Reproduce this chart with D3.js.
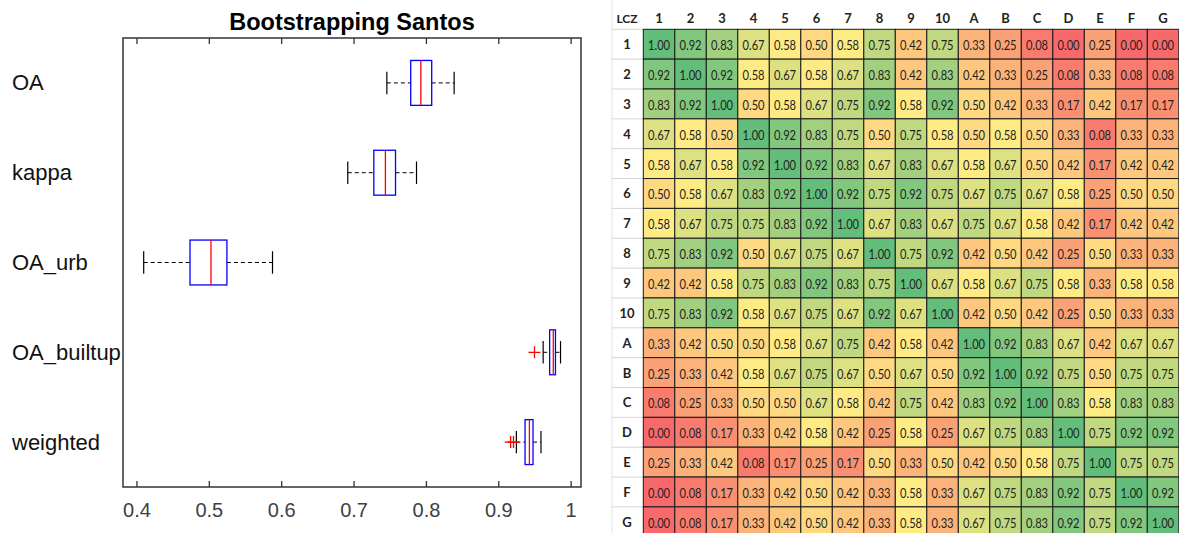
<!DOCTYPE html>
<html>
<head>
<meta charset="utf-8">
<script src="https://cdn.jsdelivr.net/npm/d3@7"></script>
<style>
  body { margin: 0; background: #fff; }
  svg { display: block; }
</style>
</head>
<body>
<script>
const W = 1179, H = 533;

// ---- boxplot ----
const groups   = ["OA", "kappa", "OA_urb", "OA_builtup", "weighted"];
const whiskLo  = [0.746, 0.692, 0.410, 0.962, 0.925];
const q1       = [0.779, 0.728, 0.474, 0.971, 0.937];
const med      = [0.793, 0.744, 0.503, 0.976, 0.943];
const q3       = [0.808, 0.758, 0.525, 0.979, 0.948];
const whiskHi  = [0.839, 0.787, 0.588, 0.986, 0.959];
const outliers = [[], [], [], [0.950], [0.917, 0.921]];
const xTicks = [0.4, 0.5, 0.6, 0.7, 0.8, 0.9, 1];
const xTickLabels = ["0.4", "0.5", "0.6", "0.7", "0.8", "0.9", "1"];

// ---- similarity matrix ----
const lcz = ["1","2","3","4","5","6","7","8","9","10","A","B","C","D","E","F","G"];
const sim = [
  [1.00,0.92,0.83,0.67,0.58,0.50,0.58,0.75,0.42,0.75,0.33,0.25,0.08,0.00,0.25,0.00,0.00],
  [0.92,1.00,0.92,0.58,0.67,0.58,0.67,0.83,0.42,0.83,0.42,0.33,0.25,0.08,0.33,0.08,0.08],
  [0.83,0.92,1.00,0.50,0.58,0.67,0.75,0.92,0.58,0.92,0.50,0.42,0.33,0.17,0.42,0.17,0.17],
  [0.67,0.58,0.50,1.00,0.92,0.83,0.75,0.50,0.75,0.58,0.50,0.58,0.50,0.33,0.08,0.33,0.33],
  [0.58,0.67,0.58,0.92,1.00,0.92,0.83,0.67,0.83,0.67,0.58,0.67,0.50,0.42,0.17,0.42,0.42],
  [0.50,0.58,0.67,0.83,0.92,1.00,0.92,0.75,0.92,0.75,0.67,0.75,0.67,0.58,0.25,0.50,0.50],
  [0.58,0.67,0.75,0.75,0.83,0.92,1.00,0.67,0.83,0.67,0.75,0.67,0.58,0.42,0.17,0.42,0.42],
  [0.75,0.83,0.92,0.50,0.67,0.75,0.67,1.00,0.75,0.92,0.42,0.50,0.42,0.25,0.50,0.33,0.33],
  [0.42,0.42,0.58,0.75,0.83,0.92,0.83,0.75,1.00,0.67,0.58,0.67,0.75,0.58,0.33,0.58,0.58],
  [0.75,0.83,0.92,0.58,0.67,0.75,0.67,0.92,0.67,1.00,0.42,0.50,0.42,0.25,0.50,0.33,0.33],
  [0.33,0.42,0.50,0.50,0.58,0.67,0.75,0.42,0.58,0.42,1.00,0.92,0.83,0.67,0.42,0.67,0.67],
  [0.25,0.33,0.42,0.58,0.67,0.75,0.67,0.50,0.67,0.50,0.92,1.00,0.92,0.75,0.50,0.75,0.75],
  [0.08,0.25,0.33,0.50,0.50,0.67,0.58,0.42,0.75,0.42,0.83,0.92,1.00,0.83,0.58,0.83,0.83],
  [0.00,0.08,0.17,0.33,0.42,0.58,0.42,0.25,0.58,0.25,0.67,0.75,0.83,1.00,0.75,0.92,0.92],
  [0.25,0.33,0.42,0.08,0.17,0.25,0.17,0.50,0.33,0.50,0.42,0.50,0.58,0.75,1.00,0.75,0.75],
  [0.00,0.08,0.17,0.33,0.42,0.50,0.42,0.33,0.58,0.33,0.67,0.75,0.83,0.92,0.75,1.00,0.92],
  [0.00,0.08,0.17,0.33,0.42,0.50,0.42,0.33,0.58,0.33,0.67,0.75,0.83,0.92,0.75,0.92,1.00]
];

const svg = d3.select("body").append("svg")
  .attr("width", W).attr("height", H);

// ================= boxplot =================
const bp = {l: 123, r: 581, t: 38, b: 487};
const x = d3.scaleLinear().domain([0.3814, 1.0143]).range([bp.l, bp.r]);
const y = d3.scalePoint().domain(groups).range([bp.t, bp.b]).padding(0.5);
const bh = y.step() * 0.5;
const AX = "#333";
const font = "'Liberation Sans', Arial, sans-serif";

const left = svg.append("g");

left.append("text")
  .attr("x", (bp.l + bp.r) / 2).attr("y", 30)
  .attr("text-anchor", "middle")
  .style("font", `bold 23.5px ${font}`)
  .text("Bootstrapping Santos");

let axBot = left.append("g").attr("transform", `translate(0,${bp.b})`)
  .call(d3.axisBottom(x).tickValues(xTicks)
    .tickFormat((d, i) => xTickLabels[i])
    .tickSizeInner(-6).tickSizeOuter(0).tickPadding(16));
let axTop = left.append("g").attr("transform", `translate(0,${bp.t})`)
  .call(d3.axisTop(x).tickValues(xTicks).tickFormat("")
    .tickSizeInner(-6).tickSizeOuter(0));
[axBot, axTop].forEach(g => {
  g.select(".domain").remove();
  g.selectAll(".tick line").attr("stroke", AX).attr("stroke-width", 1.3);
});
axBot.selectAll(".tick text")
  .attr("fill", "#404040")
  .style("font", `20px ${font}`);

left.append("rect")
  .attr("x", bp.l).attr("y", bp.t)
  .attr("width", bp.r - bp.l).attr("height", bp.b - bp.t)
  .attr("fill", "none").attr("stroke", AX).attr("stroke-width", 1.5);

left.selectAll(".cat").data(groups).join("text")
  .attr("class", "cat")
  .attr("x", 12).attr("y", d => y(d))
  .attr("dominant-baseline", "central")
  .attr("fill", "#111")
  .style("font", `22px ${font}`)
  .text(d => d);

const boxes = left.selectAll(".box").data(groups).join("g")
  .attr("class", "box")
  .attr("transform", d => `translate(0,${y(d)})`);

// whiskers
boxes.append("line")
  .attr("x1", (d, i) => x(whiskLo[i])).attr("x2", (d, i) => x(q1[i]))
  .attr("stroke", "#000").attr("stroke-dasharray", "4,3");
boxes.append("line")
  .attr("x1", (d, i) => x(q3[i])).attr("x2", (d, i) => x(whiskHi[i]))
  .attr("stroke", "#000").attr("stroke-dasharray", "4,3");
// caps
[whiskLo, whiskHi].forEach(arr => {
  boxes.append("line")
    .attr("x1", (d, i) => x(arr[i])).attr("x2", (d, i) => x(arr[i]))
    .attr("y1", -bh / 4).attr("y2", bh / 4)
    .attr("stroke", "#000").attr("stroke-width", 1.2);
});
// box
boxes.append("rect")
  .attr("x", (d, i) => x(q1[i])).attr("y", -bh / 2)
  .attr("width", (d, i) => x(q3[i]) - x(q1[i])).attr("height", bh)
  .attr("fill", "none").attr("stroke", "#0000ff").attr("stroke-width", 1.3);
// median
boxes.append("line")
  .attr("x1", (d, i) => x(med[i])).attr("x2", (d, i) => x(med[i]))
  .attr("y1", -bh / 2).attr("y2", bh / 2)
  .attr("stroke", "#ff0000").attr("stroke-width", 1.3);
// outliers
boxes.each(function(d, i) {
  d3.select(this).selectAll(".out").data(outliers[i]).join("path")
    .attr("class", "out")
    .attr("d", v => `M${x(v) - 6},0H${x(v) + 6}M${x(v)},-6V6`)
    .attr("stroke", "#ff0000").attr("stroke-width", 1.3);
});

// ================= heatmap =================
const rowH = 29.85;
const hx = d3.scaleBand().domain(lcz).range([643.3, 1178.8]);
const hy = d3.scaleBand().domain(lcz).range([29.3, 29.3 + lcz.length * rowH]);
const flat = sim.flat();
const color = d3.scaleLinear()
  .domain([d3.min(flat), d3.median(flat), d3.max(flat)])
  .range(["#F8696B", "#FFEB84", "#63BE7B"]);
const hfont = "Lato, 'Open Sans', sans-serif";
const labX = 627;

const right = svg.append("g");

// light sheet gridlines in the label column
right.selectAll(".gl").data(lcz).join("line")
  .attr("x1", 612).attr("x2", 643)
  .attr("y1", d => hy(d)).attr("y2", d => hy(d))
  .attr("stroke", "#d4d4d4");
right.append("line")
  .attr("x1", 612).attr("x2", 612).attr("y1", 0).attr("y2", H)
  .attr("stroke", "#e2e2e2");

right.append("text")
  .attr("x", labX).attr("y", 18)
  .attr("text-anchor", "middle").attr("dominant-baseline", "central")
  .style("font", `bold 12px ${hfont}`).attr("fill", "#222")
  .text("LCZ");

right.selectAll(".colh").data(lcz).join("text")
  .attr("class", "colh")
  .attr("x", d => hx(d) + hx.bandwidth() / 2).attr("y", 18)
  .attr("text-anchor", "middle").attr("dominant-baseline", "central")
  .style("font", `bold 13px ${hfont}`).attr("fill", "#222")
  .text(d => d);

right.selectAll(".rowh").data(lcz).join("text")
  .attr("class", "rowh")
  .attr("x", labX).attr("y", d => hy(d) + rowH / 2)
  .attr("text-anchor", "middle").attr("dominant-baseline", "central")
  .style("font", `bold 13px ${hfont}`).attr("fill", "#222")
  .text(d => d);

const cells = [];
sim.forEach((row, r) => row.forEach((v, c) => cells.push({r: lcz[r], c: lcz[c], v})));

const cg = right.selectAll(".cell").data(cells).join("g").attr("class", "cell");
cg.append("rect")
  .attr("x", d => hx(d.c)).attr("y", d => hy(d.r))
  .attr("width", hx.bandwidth()).attr("height", rowH)
  .attr("fill", d => color(d.v))
  .attr("stroke", "#1a1a1a").attr("stroke-width", 1);
cg.append("text")
  .attr("x", d => hx(d.c) + hx.bandwidth() / 2)
  .attr("y", d => hy(d.r) + rowH / 2 + 1)
  .attr("text-anchor", "middle").attr("dominant-baseline", "central")
  .attr("textLength", 22).attr("lengthAdjust", "spacingAndGlyphs")
  .style("font", `13.5px ${hfont}`).attr("fill", "#222")
  .text(d => d.v.toFixed(2));
</script>
</body>
</html>
